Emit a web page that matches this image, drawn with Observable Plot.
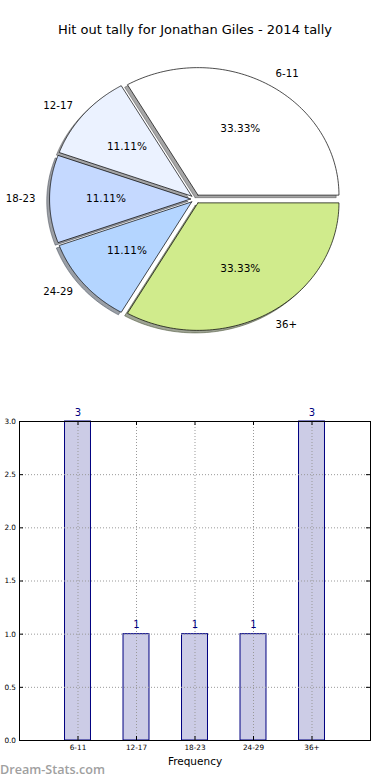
<!DOCTYPE html>
<html><head><meta charset="utf-8">
<script src="https://cdn.jsdelivr.net/npm/d3@7"></script>
<script src="https://cdn.jsdelivr.net/npm/@observablehq/plot@0.6"></script>
<style>
body{margin:0;background:#fff;}
#wrap{position:relative;width:390px;height:780px;font-family:"DejaVu Sans",sans-serif;overflow:hidden;background:#fff;}
#title{position:absolute;left:0;width:390px;top:22px;text-align:center;font-size:13px;line-height:16px;color:#000;}
#pie{position:absolute;left:0;top:40px;}
#bar{position:absolute;left:0;top:400px;}
#wm{position:absolute;left:0;top:761px;font-family:"Open Sans",sans-serif;font-weight:600;font-size:12.6px;line-height:18px;color:#a0a0a0;}
</style></head><body>
<div id="wrap">
<div id="title">Hit out tally for Jonathan Giles - 2014 tally</div>
<div id="pie"></div>
<div id="bar"></div>
<div id="wm">Dream-Stats.com</div>
</div>
<script>
// ---- data ----
const categories = ["6-11", "12-17", "18-23", "24-29", "36+"];
const counts = [3, 1, 1, 1, 3];
const pieColors = ["#ffffff", "#ebf2ff", "#c5d9ff", "#b4d5ff", "#d0eb8c"];
const explode = [0.035, 0.035, 0.035, 0.035, 0.035];
const yTicks = [0, 0.5, 1, 1.5, 2, 2.5, 3];

// ---- pie (layout) ----
const rx = 141, ry = 127.5;         // pixel radii (non-equal aspect)
const pieW = 390, pieH = 320, cxPx = 195, cyPx = 158.5;
const total = d3.sum(counts);
let acc = 0;
const slices = categories.map((c, i) => {
  const a0 = acc / total * 2 * Math.PI;
  acc += counts[i];
  const a1 = acc / total * 2 * Math.PI;
  const mid = (a0 + a1) / 2;
  const ox = explode[i] * Math.cos(mid), oy = explode[i] * Math.sin(mid);
  const pts = [{x: ox, y: oy}];
  const n = 90;
  for (let k = 0; k <= n; k++) {
    const t = a0 + (a1 - a0) * k / n;
    pts.push({x: ox + Math.cos(t), y: oy + Math.sin(t)});
  }
  pts.push({x: ox, y: oy});
  const rgb = d3.rgb(pieColors[i]);
  const shadow = d3.rgb(rgb.r * 0.3, rgb.g * 0.3, rgb.b * 0.3).formatHex();
  return {cat: c, value: counts[i], mid, e: explode[i], pts, color: pieColors[i], shadow};
});
const labelPts = slices.map(s => ({
  text: s.cat,
  x: (1.1 + s.e) * Math.cos(s.mid), y: (1.1 + s.e) * Math.sin(s.mid),
  right: Math.cos(s.mid) > 0
}));
const pctPts = slices.map(s => ({
  text: (s.value / total * 100).toFixed(2) + "%",
  x: (0.6 + s.e) * Math.cos(s.mid), y: (0.6 + s.e) * Math.sin(s.mid)
}));

const pieMarks = [];
slices.forEach(s => pieMarks.push(Plot.line(s.pts, {
  x: "x", y: "y", curve: "linear", fill: s.shadow, fillOpacity: 0.5,
  stroke: s.shadow, strokeOpacity: 0.5, strokeWidth: 1, dx: -0.02 * rx, dy: 0.02 * ry
})));
slices.forEach(s => pieMarks.push(Plot.line(s.pts, {
  x: "x", y: "y", curve: "linear", fill: s.color, stroke: "#000", strokeWidth: 0.7, strokeLinejoin: "miter"
})));
pieMarks.push(Plot.text(labelPts.filter(d => d.right), {x: "x", y: "y", text: "text", textAnchor: "start", fontSize: 10.2, fill: "#000"}));
pieMarks.push(Plot.text(labelPts.filter(d => !d.right), {x: "x", y: "y", text: "text", textAnchor: "end", fontSize: 10.2, fill: "#000"}));
pieMarks.push(Plot.text(pctPts, {x: "x", y: "y", text: "text", textAnchor: "middle", fontSize: 10.5, fill: "#000"}));

const pie = Plot.plot({
  width: pieW, height: pieH, margin: 0,
  style: {fontFamily: "DejaVu Sans", background: "transparent", overflow: "visible"},
  x: {domain: [-cxPx / rx, (pieW - cxPx) / rx], axis: null},
  y: {domain: [-(pieH - cyPx) / ry, cyPx / ry], axis: null},
  marks: pieMarks
});
document.getElementById("pie").appendChild(pie);

// ---- bar chart ----
const barData = categories.map((c, i) => ({cat: c, n: counts[i]}));
const gridStyle = {stroke: "#999", strokeDasharray: "1,2", strokeWidth: 1};
const bar = Plot.plot({
  width: 390, height: 380, marginTop: 21, marginBottom: 40, marginLeft: 19, marginRight: 20,
  style: {fontFamily: "DejaVu Sans", fontSize: "7.3px", background: "transparent", overflow: "visible"},
  x: {type: "band", domain: categories, paddingInner: 0.556, paddingOuter: 0.778, round: false, label: null},
  y: {domain: [0, 3], label: null},
  marks: [
    Plot.barY(barData, {x: "cat", y: "n", fill: "#ccccE6", stroke: "#000080", strokeWidth: 1}),
    Plot.ruleY(yTicks, {y: d => d, ...gridStyle}),
    Plot.ruleX(categories, {x: d => d, ...gridStyle}),
    Plot.tickY(yTicks, {y: d => d, insetRight: 347, stroke: "#000"}),
    Plot.tickY(yTicks, {y: d => d, insetLeft: 347, stroke: "#000"}),
    Plot.tickX(categories, {x: d => d, insetTop: 315, stroke: "#000"}),
    Plot.tickX(categories, {x: d => d, insetBottom: 315, stroke: "#000"}),
    Plot.frame({stroke: "#000", strokeWidth: 1}),
    Plot.axisY({ticks: yTicks, tickSize: 0, tickPadding: 3.5, tickFormat: d3.format(".1f"), label: null, fill: "#000"}),
    Plot.axisX({tickSize: 0, tickPadding: 4, label: null, fill: "#000"}),
    Plot.text(barData, {x: "cat", y: "n", text: d => String(d.n), dy: -9, lineAnchor: "middle", fill: "#000080", fontSize: 10}),
    Plot.text(["Frequency"], {frameAnchor: "bottom", text: d => d, dy: 21, lineAnchor: "middle", fontSize: 10.5, fill: "#000"})
  ]
});
document.getElementById("bar").appendChild(bar);
</script>
</body></html>
